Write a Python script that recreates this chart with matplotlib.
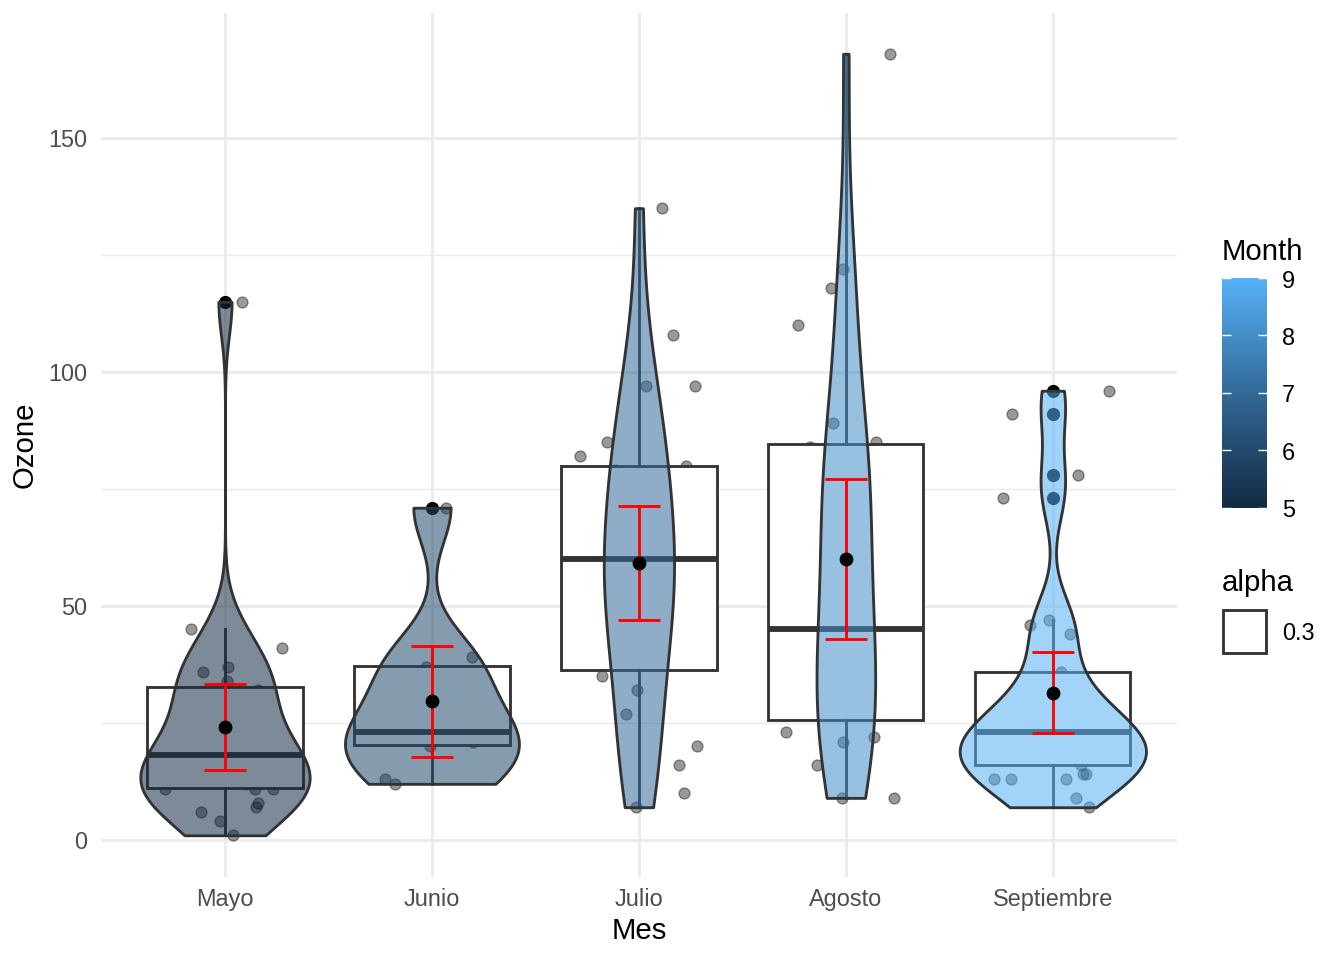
import numpy as np
import matplotlib
matplotlib.use("Agg")
import matplotlib.pyplot as plt
from matplotlib.colors import LinearSegmentedColormap, to_rgb
from matplotlib.patches import Rectangle

plt.rcParams['font.family'] = ['Liberation Sans', 'DejaVu Sans']

# categorias
meses = ["Mayo", "Junio", "Julio", "Agosto", "Septiembre"]
month_num = [5, 6, 7, 8, 9]

# ozono por mes (ordenado)
ozone_may = [1, 4, 6, 7, 8, 11, 11, 11, 12, 14, 14, 16, 18, 18, 19, 23, 23, 28, 30, 32, 34, 36, 37, 41, 45, 115]
ozone_jun = [12, 13, 20, 21, 23, 29, 37, 39, 71]
ozone_jul = [7, 10, 16, 20, 27, 32, 35, 40, 48, 49, 50, 52, 59, 61, 63, 64, 64, 77, 79, 80, 82, 85, 97, 97, 108, 135]
ozone_aug = [9, 9, 16, 21, 22, 23, 28, 31, 35, 39, 44, 44, 45, 59, 65, 66, 73, 76, 78, 84, 85, 89, 110, 118, 122, 168]
ozone_sep = [7, 9, 13, 13, 13, 14, 14, 16, 18, 18, 20, 20, 21, 21, 23, 23, 24, 24, 28, 30, 32, 36, 44, 46, 47, 73, 78, 91, 96]
ozone = [ozone_may, ozone_jun, ozone_jul, ozone_aug, ozone_sep]

# desplazamiento horizontal del jitter
jit_may = [0.04, -0.024, -0.116, 0.15, 0.158, -0.29, 0.145, 0.233, 0.1, -0.2, 0.25, -0.05, 0.3, -0.25, 0.05,
           -0.15, 0.2, -0.3, 0.1, 0.16, 0.011, -0.105, 0.016, 0.274, -0.164, 0.08]
jit_jun = [-0.18, -0.227, -0.01, 0.2, -0.2, 0.1, -0.03, 0.195, 0.066]
jit_jul = [-0.014, 0.217, 0.195, 0.279, -0.06, -0.01, -0.18, 0.25, -0.2, 0.1, -0.3, 0.3, -0.1, 0.05, 0.2,
           -0.25, 0.15, -0.05, -0.116, 0.227, -0.285, -0.156, 0.034, 0.27, 0.166, 0.113]
jit_aug = [-0.02, 0.233, -0.14, -0.016, 0.135, -0.287, 0.2, -0.1, 0.3, -0.25, 0.05, -0.3, 0.15, -0.15, 0.25,
           -0.05, 0.1, -0.2, 0.3, -0.174, 0.148, -0.061, -0.233, -0.07, -0.013, 0.213]
jit_sep = [0.174, 0.111, -0.283, -0.2, 0.063, 0.16, 0.146, 0.137, -0.1, 0.2, -0.25, 0.05, 0.3, -0.15, 0.1,
           -0.3, 0.25, -0.05, 0.15, -0.2, 0.02, 0.04, 0.082, -0.111, -0.018, -0.243, 0.122, -0.195, 0.27]
jitter = [jit_may, jit_jun, jit_jul, jit_aug, jit_sep]

# estadisticos de la caja
box_q1 = [11.2, 20.2, 36.3, 25.6, 16.0]
box_med = [18.1, 23.0, 60.0, 45.1, 23.1]
box_q3 = [32.6, 37.1, 79.9, 84.6, 36.0]
whisk_lo = [1, 12, 7, 9, 7]
whisk_hi = [45, 39, 135, 168, 47]
outliers = [[115], [71], [], [], [73, 78, 91, 96]]

# media e intervalo
media = [24.2, 29.6, 59.2, 60.0, 31.5]
ci_lo = [15.0, 17.7, 47.0, 43.0, 22.8]
ci_hi = [33.4, 41.5, 71.4, 77.1, 40.2]

EDGE = "#333333"
PT = 1.92  # factor de puntos R -> matplotlib


# gradiente tipo ggplot (interpolado en Lab)
def rgb2lab(c):
    c = np.array(c, float)
    c = np.where(c > 0.04045, ((c + 0.055) / 1.055) ** 2.4, c / 12.92)
    m = np.array([[0.4124, 0.3576, 0.1805], [0.2126, 0.7152, 0.0722], [0.0193, 0.1192, 0.9505]])
    xyz = m @ c / np.array([0.95047, 1.0, 1.08883])
    f = np.where(xyz > 0.008856, np.cbrt(xyz), 7.787 * xyz + 16 / 116)
    return np.array([116 * f[1] - 16, 500 * (f[0] - f[1]), 200 * (f[1] - f[2])])


def lab2rgb(lab):
    fy = (lab[0] + 16) / 116
    f = np.array([fy + lab[1] / 500, fy, fy - lab[2] / 200])
    xyz = np.where(f ** 3 > 0.008856, f ** 3, (f - 16 / 116) / 7.787) * np.array([0.95047, 1.0, 1.08883])
    mi = np.array([[3.2406, -1.5372, -0.4986], [-0.9689, 1.8758, 0.0415], [0.0557, -0.2040, 1.0570]])
    c = mi @ xyz
    c = np.where(c > 0.0031308, 1.055 * np.clip(c, 0, None) ** (1 / 2.4) - 0.055, 12.92 * c)
    return np.clip(c, 0, 1)


lab_lo = rgb2lab(to_rgb("#132B43"))
lab_hi = rgb2lab(to_rgb("#56B1F7"))
anchors = [lab2rgb(lab_lo + t * (lab_hi - lab_lo)) for t in np.linspace(0, 1, 21)]
cmap = LinearSegmentedColormap.from_list("gg", anchors)

fig = plt.figure(figsize=(13.44, 9.6), dpi=100)
ax = fig.add_axes([100.8 / 1344, 1 - 876.5 / 960, 1076.2 / 1344, 863.9 / 960])
pos = np.arange(1, len(meses) + 1)


def bw_nrd0(x):
    x = np.asarray(x, float)
    sd = x.std(ddof=1)
    iqr = np.percentile(x, 75) - np.percentile(x, 25)
    lo = min(sd, iqr / 1.34)
    return 0.9 * lo * len(x) ** -0.2


def densidad(x, grid):
    x = np.asarray(x, float)
    h = bw_nrd0(x)
    z = (grid[:, None] - x[None, :]) / h
    return np.exp(-0.5 * z ** 2).sum(axis=1) / (len(x) * h * np.sqrt(2 * np.pi))


# violines (escala por area)
grids, dens = [], []
for vals in ozone:
    g = np.linspace(min(vals), max(vals), 512)
    grids.append(g)
    dens.append(densidad(vals, g))
dmax = max(d.max() for d in dens)

# puntos con jitter
for i, vals in enumerate(ozone):
    ax.scatter(pos[i] + np.array(jitter[i]), vals, s=62, color="black", alpha=0.4,
               linewidths=1, zorder=2)

# cajas
stats = []
for i in range(len(meses)):
    stats.append(dict(med=box_med[i], q1=box_q1[i], q3=box_q3[i], whislo=whisk_lo[i],
                      whishi=whisk_hi[i], fliers=outliers[i]))
ax.bxp(stats, positions=pos, widths=0.75, patch_artist=True, showcaps=False, zorder=3,
       boxprops=dict(facecolor="white", edgecolor=EDGE, linewidth=1.07 * PT),
       medianprops=dict(color=EDGE, linewidth=2.2 * PT, solid_capstyle="butt"),
       whiskerprops=dict(color=EDGE, linewidth=1.07 * PT),
       flierprops=dict(marker="o", markerfacecolor="black", markeredgecolor="black", markersize=8.5))

for i in range(len(meses)):
    hw = 0.45 * dens[i] / dmax
    c = cmap((month_num[i] - 5) / 4)
    ax.fill_betweenx(grids[i], pos[i] - hw, pos[i] + hw, facecolor=(c[0], c[1], c[2], 0.55),
                     edgecolor=EDGE, linewidth=1.07 * PT, zorder=4)

# media y barras de error
ax.vlines(pos, ci_lo, ci_hi, color="red", linewidth=1.07 * PT, zorder=5)
ax.hlines(ci_lo, pos - 0.1, pos + 0.1, color="red", linewidth=1.07 * PT, zorder=5)
ax.hlines(ci_hi, pos - 0.1, pos + 0.1, color="red", linewidth=1.07 * PT, zorder=5)
ax.scatter(pos, media, s=80, color="black", zorder=6)

ax.set_xlim(0.4, 5.6)
ax.set_ylim(-7.8, 176.8)
ax.set_xticks(pos)
ax.set_xticklabels(meses)
ax.set_yticks([0, 50, 100, 150])
ax.set_yticks([25, 75, 125], minor=True)
ax.grid(which="major", color="#EBEBEB", linewidth=1.07 * PT)
ax.grid(which="minor", axis="y", color="#EBEBEB", linewidth=0.53 * PT)
ax.set_axisbelow(True)
for s in ax.spines.values():
    s.set_visible(False)
ax.tick_params(which="both", length=0, labelsize=8.8 * PT, labelcolor="#4D4D4D")
ax.tick_params(axis="y", pad=9.5)
ax.tick_params(axis="x", pad=8.5)
ax.set_xlabel("Mes", fontsize=11 * PT)
ax.set_ylabel("Ozone", fontsize=11 * PT)
ax.xaxis.set_label_coords(0.5, -0.0635)
ax.xaxis.label.set_va("center")
ax.yaxis.set_label_coords(-0.0704, 0.5)
ax.yaxis.label.set_va("center")

# leyenda: barra de color
cax = fig.add_axes([1222 / 1344, 1 - 507.5 / 960, 45 / 1344, 229.5 / 960])
grad = np.linspace(5, 9, 300)[:, None]
cax.imshow(grad, extent=[0, 1, 5, 9], origin="lower", aspect="auto", cmap=cmap, vmin=5, vmax=9)
for v in month_num:
    cax.plot([0, 0.2], [v, v], color="white", linewidth=1.0, solid_capstyle="butt")
    cax.plot([0.8, 1], [v, v], color="white", linewidth=1.0, solid_capstyle="butt")
cax.set_xlim(0, 1)
cax.set_ylim(5, 9)
cax.set_axis_off()
for v in month_num:
    fig.text(1282 / 1344, 1 - (510.5 - (v - 5) * 229.5 / 4) / 960, str(v), fontsize=8.8 * PT,
             va="center", ha="left")
fig.text(1222 / 1344, 1 - 252 / 960, "Month", fontsize=11 * PT, va="center", ha="left")

# leyenda: alpha
fig.text(1222 / 1344, 1 - 583 / 960, "alpha", fontsize=11 * PT, va="center", ha="left")
fig.patches.append(Rectangle((1223 / 1344, 1 - 653 / 960), 43 / 1344, 43 / 960,
                             transform=fig.transFigure, facecolor="white", edgecolor=EDGE,
                             linewidth=1.07 * PT))
fig.text(1282 / 1344, 1 - 634 / 960, "0.3", fontsize=8.8 * PT, va="center", ha="left")

fig.savefig("out.png", dpi=100)
